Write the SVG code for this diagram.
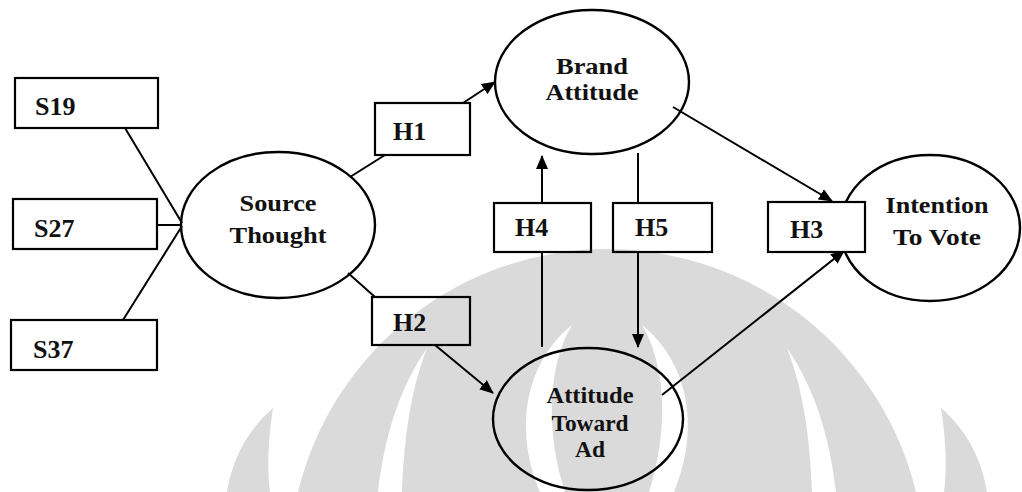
<svg xmlns="http://www.w3.org/2000/svg" width="1022" height="492" viewBox="0 0 1022 492">
<style>
.box{fill:none;stroke:#000;stroke-width:2.2}
.ell{fill:none;stroke:#000;stroke-width:2.4}
.lbl{font-family:"Liberation Serif","Times New Roman",serif;font-weight:bold;font-size:26px;fill:#111}
.el{font-family:"Liberation Serif","Times New Roman",serif;font-weight:bold;font-size:23px;fill:#111;text-anchor:middle}
.ln{stroke:#000;stroke-width:2;fill:none}
.arr{stroke:#000;stroke-width:2;fill:none;marker-end:url(#ah)}
.wm{fill:#dadada}
.wh{fill:#fff}
</style>
<defs>
<marker id="ah" markerUnits="userSpaceOnUse" markerWidth="14" markerHeight="12" refX="13" refY="6" orient="auto">
<path d="M0,0 L14,6 L0,12 z" fill="#000"/>
</marker>
</defs>
<rect width="1022" height="492" fill="#fff"/>
<g id="watermark">
<path class="wm" d="M298 492 A318 318 0 0 1 916 492 Z"/>
<path class="wh" d="M427 348 C398 390 384 440 378 492 L402 492 C404 440 410 392 427 348 Z"/>
<path class="wh" d="M787 348 C816 390 830 440 836 492 L812 492 C810 440 804 392 787 348 Z"/>
<path class="wh" d="M572 325 C528 360 512 425 540 492 L565 492 C545 430 548 365 572 325 Z"/>
<path class="wh" d="M642 325 C686 360 702 425 674 492 L649 492 C669 430 666 365 642 325 Z"/>
<path class="wm" d="M227 492 C233 455 250 428 273 408 C268 440 267 470 270 492 Z"/>
<path class="wm" d="M987 492 C981 455 964 428 941 408 C946 440 947 470 944 492 Z"/>
</g>
<g id="connectors">
<line class="ln" x1="125" y1="128" x2="182" y2="223"/>
<line class="ln" x1="158" y1="225" x2="181" y2="225"/>
<line class="ln" x1="123" y1="320" x2="182" y2="226"/>
<line class="ln" x1="350" y1="177" x2="385" y2="155"/>
<line class="arr" x1="463" y1="103" x2="495" y2="82"/>
<line class="ln" x1="348" y1="273" x2="375" y2="297"/>
<line class="arr" x1="435" y1="345" x2="493" y2="393"/>
<line class="ln" x1="542" y1="347" x2="542" y2="252"/>
<line class="arr" x1="542" y1="203" x2="542" y2="156"/>
<line class="ln" x1="638" y1="153" x2="638" y2="203"/>
<line class="arr" x1="638" y1="252" x2="638" y2="347"/>
<line class="arr" x1="673" y1="107" x2="832" y2="201"/>
<line class="arr" x1="662" y1="395" x2="844" y2="251"/>
</g>
<g id="S19"><rect class="box" x="15" y="78" width="143" height="50"/><text class="lbl" x="35" y="115">S19</text></g>
<g id="S27"><rect class="box" x="13" y="199" width="144" height="50"/><text class="lbl" x="34" y="237">S27</text></g>
<g id="S37"><rect class="box" x="11" y="320" width="146" height="50"/><text class="lbl" x="33" y="358">S37</text></g>
<g id="source-thought"><ellipse class="ell" cx="278" cy="225" rx="97" ry="73"/><text class="el" x="278" y="211" textLength="77" lengthAdjust="spacingAndGlyphs">Source</text><text class="el" x="278" y="243" textLength="97" lengthAdjust="spacingAndGlyphs">Thought</text></g>
<g id="brand-attitude"><ellipse class="ell" cx="592" cy="82" rx="97" ry="72"/><text class="el" x="592" y="74" textLength="72" lengthAdjust="spacingAndGlyphs">Brand</text><text class="el" x="592" y="100" textLength="93" lengthAdjust="spacingAndGlyphs">Attitude</text></g>
<g id="attitude-toward-ad"><ellipse class="ell" cx="588" cy="419" rx="95" ry="71"/><text class="el" x="590" y="403" textLength="87" lengthAdjust="spacingAndGlyphs">Attitude</text><text class="el" x="590" y="431" textLength="77" lengthAdjust="spacingAndGlyphs">Toward</text><text class="el" x="590" y="457" textLength="30" lengthAdjust="spacingAndGlyphs">Ad</text></g>
<g id="intention-to-vote"><ellipse class="ell" cx="930" cy="228" rx="90" ry="73"/><text class="el" x="937" y="213" textLength="103" lengthAdjust="spacingAndGlyphs">Intention</text><text class="el" x="937" y="245" textLength="88" lengthAdjust="spacingAndGlyphs">To Vote</text></g>
<g id="H1"><rect class="box" x="375" y="103" width="95" height="52"/><text class="lbl" x="393" y="140">H1</text></g>
<g id="H2"><rect class="box" x="372" y="297" width="98" height="48"/><text class="lbl" x="393" y="331">H2</text></g>
<g id="H4"><rect class="box" x="494" y="203" width="97" height="49"/><text class="lbl" x="515" y="236">H4</text></g>
<g id="H5"><rect class="box" x="613" y="203" width="99" height="49"/><text class="lbl" x="635" y="236">H5</text></g>
<g id="H3"><rect class="box" x="768" y="202" width="97" height="50" style="fill:#fff"/><text class="lbl" x="790" y="238">H3</text></g>
</svg>
